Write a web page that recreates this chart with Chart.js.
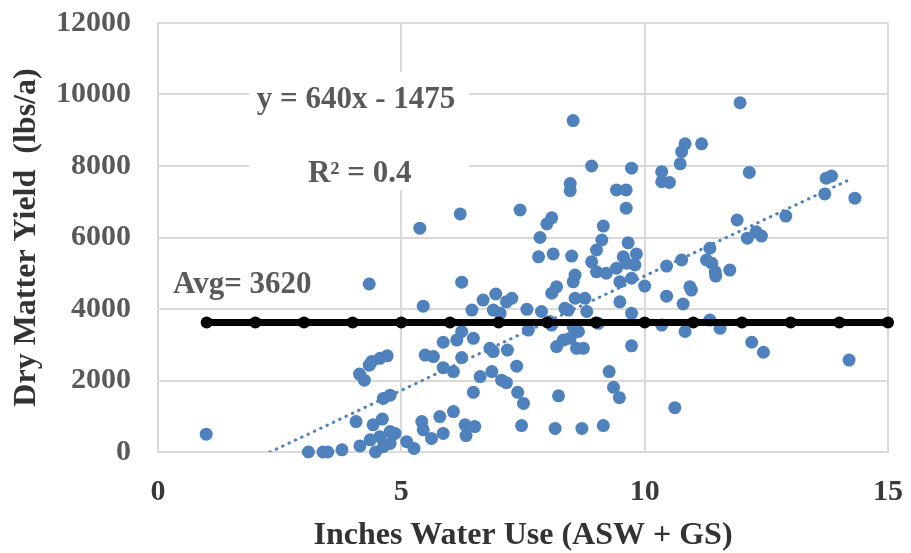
<!DOCTYPE html>
<html>
<head>
<meta charset="utf-8">
<script src="https://cdn.jsdelivr.net/npm/chart.js@4/dist/chart.umd.min.js"></script>
<style>
  html, body { margin: 0; padding: 0; background: #ffffff; }
  #wrap { width: 911px; height: 553px; }
</style>
</head>
<body>
<div id="wrap"><canvas id="c" width="911" height="553"></canvas></div>
<script>
// Inches water use (ASW + GS)
const waterUse = [
  0.99, 3.09, 3.39, 3.49, 3.78, 4.15, 4.47, 4.63, 4.77, 4.36, 4.56, 4.87, 4.77, 5.11, 5.26,
  4.07, 4.42, 4.61, 4.63, 4.77, 4.14, 4.24, 4.34, 4.39, 4.56, 4.71, 4.34, 5.38, 5.45, 5.49,
  5.66, 5.42, 5.45, 5.62, 5.79, 5.86, 6.07, 6.31, 6.51, 6.33, 5.86, 6.07, 5.86, 6.14, 6.24,
  6.48, 6.24, 6.62, 6.86, 7.06, 7.16, 6.48, 7.39, 7.51, 7.47, 6.82, 6.89, 7.18, 7.37, 6.21,
  6.24, 6.45, 6.68, 6.89, 6.94, 7.03, 7.16, 7.27, 7.44, 7.58, 7.61, 7.88, 8.09, 8.19, 8.09,
  8.19, 8.16, 8.23, 7.85, 7.82, 8.12, 8.50, 7.99, 8.09, 8.47, 8.47, 8.53, 8.91, 9.12, 9.01,
  8.91, 9.01, 9.21, 8.57, 8.53, 9.42, 9.63, 9.80, 9.73, 9.49, 10.0, 10.45, 10.76, 10.93, 10.96,
  11.45, 11.38, 11.75, 10.45, 10.79, 8.57, 8.77, 8.36, 8.43, 8.81, 9.49, 9.73, 8.05, 8.53, 8.64,
  9.05, 8.33, 8.47, 8.60, 8.74, 9.73, 10.35, 10.83, 11.34, 11.55, 9.27, 9.36, 9.48, 10.62, 8.71,
  9.15, 9.66, 9.83, 9.56, 11.34, 11.27, 11.46, 12.20, 12.44, 14.20, 9.73, 9.42, 9.62, 9.62, 9.15,
  10.35, 10.35, 10.51, 10.73, 10.76, 10.83, 11.17, 11.96, 12.15, 13.73, 13.84, 13.70, 14.32, 12.90, 11.90,
  12.11, 12.29, 12.40
];
// Dry matter yield (lbs/a)
const yieldLbs = [
  500, 0, 0, 0, 60, 170, 0, 150, 240, 340, 430, 520, 570, 290, 100,
  850, 760, 920, 1500, 1590, 2180, 2010, 2430, 2530, 2620, 2690, 4700, 6260, 4080, 2710,
  2670, 850, 620, 380, 990, 520, 1130, 760, 710, 460, 2360, 2250, 3070, 3130, 3370,
  3180, 2640, 2110, 2250, 2010, 1940, 1670, 1670, 1360, 740, 2900, 2810, 2850, 2400, 6660,
  4750, 3970, 4250, 3970, 4420, 3880, 4200, 4300, 6770, 3990, 3410, 3930, 4440, 4620, 3550,
  2950, 660, 1570, 6000, 5460, 5540, 5480, 6380, 6550, 7510, 7310, 9270, 8000, 5930, 5650,
  5320, 5040, 5000, 4950, 4760, 5140, 5280, 5230, 4860, 4760, 4640, 5200, 5370, 4620, 4530,
  5040, 5280, 5090, 4360, 4140, 4300, 4300, 4020, 3970, 3930, 4200, 3880, 3650, 3500, 3370,
  3600, 3130, 3180, 2900, 2900, 2970, 3550, 3370, 3690, 3460, 2250, 1810, 1520, 1240, 660,
  740, 5850, 5540, 5460, 5700, 5370, 4920, 3070, 2790, 2570, 7940, 7330, 7330, 6820, 6320,
  7840, 7560, 7540, 8060, 8400, 8620, 8620, 9770, 7820, 7660, 7720, 7220, 7100, 6600, 6490,
  5980, 6160, 6040
];
// Average line
const avgValue = 3620;
const avgX = [1, 2, 3, 4, 5, 6, 7, 8, 9, 10, 11, 12, 13, 14, 15];
// Linear trendline y = 640x - 1475
const trendSlope = 640;
const trendIntercept = -1475;
const trendX = [2.3, 14.24];
// Axis ticks
const xTicks = [0, 5, 10, 15];
const yTicks = [0, 2000, 4000, 6000, 8000, 10000, 12000];

const BLUE = '#4f81bd';
const SERIF = '"Liberation Serif", "Times New Roman", serif';

const scatterData = waterUse.map((x, i) => ({ x: x, y: yieldLbs[i] }));
const avgData = avgX.map(x => ({ x: x, y: avgValue }));
const trendData = trendX.map(x => ({ x: x, y: trendSlope * x + trendIntercept }));

const notes = {
  box: { x0: 1.87, x1: 6.39, y0: 10630, y1: 7330 },
  texts: [
    { text: 'y = 640x - 1475', x: 2.03, y: 9620 },
    { text: 'R\u00b2 = 0.4', x: 3.08, y: 7560 },
    { text: 'Avg= 3620', x: 0.31, y: 4450 }
  ]
};

const notePlugin = {
  id: 'notes',
  beforeDatasetsDraw(chart) {
    const { ctx, scales: { x, y } } = chart;
    const b = notes.box;
    ctx.save();
    ctx.fillStyle = '#ffffff';
    const px0 = x.getPixelForValue(b.x0), px1 = x.getPixelForValue(b.x1);
    const py0 = y.getPixelForValue(b.y0), py1 = y.getPixelForValue(b.y1);
    ctx.fillRect(px0, py0, px1 - px0, py1 - py0);
    ctx.restore();
  },
  afterDraw(chart) {
    const { ctx, scales: { x, y } } = chart;
    ctx.save();
    ctx.fillStyle = '#595959';
    ctx.font = 'bold 31px ' + SERIF;
    ctx.textAlign = 'left';
    ctx.textBaseline = 'alphabetic';
    notes.texts.forEach(t => {
      ctx.fillText(t.text, x.getPixelForValue(t.x), y.getPixelForValue(t.y));
    });
    ctx.restore();
  }
};

function noEdgePadding(scale) {
  scale.paddingTop = 0;
  scale.paddingBottom = 0;
  scale.paddingLeft = 0;
  scale.paddingRight = 0;
}

new Chart(document.getElementById('c'), {
  type: 'scatter',
  data: {
    datasets: [
      {
        label: 'Average',
        type: 'line',
        data: avgData,
        borderColor: '#000000',
        backgroundColor: '#000000',
        borderWidth: 7,
        pointRadius: 6,
        pointBorderWidth: 0,
        pointBackgroundColor: '#000000',
        showLine: true,
        fill: false,
        clip: false,
        order: 1
      },
      {
        label: 'Trend',
        type: 'line',
        data: trendData,
        borderColor: BLUE,
        borderWidth: 3,
        borderDash: [0.5, 6.5],
        borderCapStyle: 'round',
        pointRadius: 0,
        showLine: true,
        fill: false,
        order: 2
      },
      {
        label: 'Yield',
        data: scatterData,
        backgroundColor: BLUE,
        borderColor: BLUE,
        pointRadius: 6.5,
        pointBorderWidth: 0,
        clip: false,
        order: 3
      }
    ]
  },
  options: {
    responsive: false,
    animation: false,
    devicePixelRatio: 1,
    layout: { padding: { top: 23, right: 23, left: 0, bottom: 0 } },
    plugins: { legend: { display: false }, tooltip: { enabled: false } },
    scales: {
      x: {
        type: 'linear',
        min: 0, max: 15,
        afterBuildTicks(scale) { scale.ticks = xTicks.map(v => ({ value: v })); },
        afterFit(scale) { scale.height = 101; noEdgePadding(scale); },
        grid: { color: '#d9d9d9', lineWidth: 2, drawTicks: false },
        border: { display: true, color: '#d9d9d9', width: 2 },
        ticks: {
          padding: 22,
          color: '#3a3a3a',
          callback: v => String(v),
          font: { family: SERIF, size: 30, weight: 'bold', lineHeight: 1.2 }
        },
        title: {
          display: true,
          text: 'Inches Water Use (ASW + GS)',
          color: '#333333',
          font: { family: SERIF, size: 32, weight: 'bold', lineHeight: 1 },
          padding: { top: 0, bottom: 1 }
        }
      },
      y: {
        type: 'linear',
        min: 0, max: 12000,
        afterBuildTicks(scale) { scale.ticks = yTicks.map(v => ({ value: v })); },
        afterFit(scale) { scale.width = 158; noEdgePadding(scale); },
        grid: { color: '#d9d9d9', lineWidth: 2, drawTicks: false },
        border: { display: true, color: '#d9d9d9', width: 2 },
        ticks: {
          padding: 27,
          color: '#595959',
          callback: v => String(v),
          font: { family: SERIF, size: 30, weight: 'bold', lineHeight: 1.2 }
        },
        title: {
          display: true,
          text: 'Dry Matter Yield  (lbs/a)',
          color: '#333333',
          font: { family: SERIF, size: 32, weight: 'bold', lineHeight: 1.2 },
          padding: { top: 8, bottom: 0 }
        }
      }
    }
  },
  plugins: [notePlugin]
});
</script>
</body>
</html>
